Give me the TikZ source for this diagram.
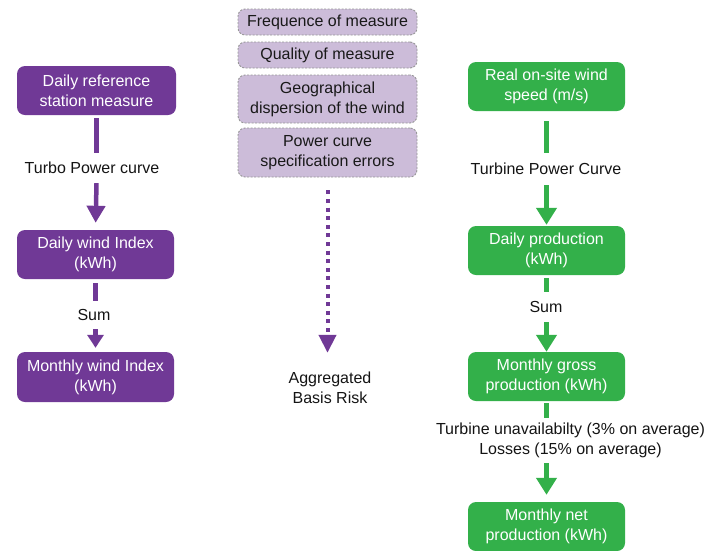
\documentclass[tikz,border=0pt]{standalone}
\usepackage{fontspec}
\setmainfont{Liberation Sans}
\usetikzlibrary{arrows.meta}
\definecolor{pur}{RGB}{112,57,150}
\definecolor{grn}{RGB}{51,176,74}
\definecolor{lpur}{RGB}{204,188,217}
\definecolor{dgray}{RGB}{150,150,150}
\tikzset{
  pbox/.style={fill=pur,rounded corners=8pt,text=white,align=center,font=\fontsize{16}{20}\selectfont,inner sep=0pt,minimum height=49pt},
  gbox/.style={fill=grn,rounded corners=8pt,text=white,align=center,font=\fontsize{16}{20}\selectfont,inner sep=0pt,minimum height=49pt,minimum width=157pt},
  cbox/.style={fill=lpur,draw=dgray,dash pattern=on 2pt off 1.5pt,line width=0.9pt,rounded corners=7pt,text=black!90,align=center,font=\fontsize{16}{20}\selectfont,inner sep=0pt,minimum width=179pt},
  lab/.style={text=black!92,align=center,font=\fontsize{16}{20}\selectfont,inner sep=0pt},
  pline/.style={draw=pur,line width=4.5pt},
  gline/.style={draw=grn,line width=4.5pt},
  ptip/.style={-{Triangle[width=18pt,length=17pt]}},
  gtip/.style={-{Triangle[width=20pt,length=17pt]}},
}
\begin{document}
\begin{tikzpicture}[x=1pt,y=-1pt]
\useasboundingbox (0,0) rectangle (719,550);
% left column
\node[pbox,minimum width=159pt] (b1) at (96.5,90.5) {Daily reference\\station measure};
\node[lab,minimum height=30pt] (l1) at (92,168) {Turbo Power curve};
\node[pbox,minimum width=157pt] (b2) at (95.5,254.5) {Daily wind Index\\(kWh)};
\node[lab,minimum height=28pt] (l2) at (94,315) {Sum};
\node[pbox,minimum width=157pt,minimum height=50pt] (b3) at (95.5,377) {Monthly wind Index\\(kWh)};
\draw[pline,shorten <=3pt] (b1.south) -- (b1.south |- l1.north);
\draw[pline,ptip,shorten >=7pt] (b1.south |- l1.south) -- (b2.north);
\draw[pline,shorten <=4pt] (b2.south) -- (b2.south |- l2.north);
\draw[pline,-{Triangle[width=16pt,length=13pt]},shorten >=4pt] (b2.south |- l2.south) -- (b3.north);
% centre column
\node[cbox,minimum height=26pt] (c1) at (327.5,22) {Frequence of measure};
\node[cbox,minimum height=26pt] (c2) at (327.5,55) {Quality of measure};
\node[cbox,minimum height=48pt] (c3) at (327.5,99) {Geographical\\dispersion of the wind};
\node[cbox,minimum height=49pt] (c4) at (327.5,152.5) {Power curve\\specification errors};
\node[lab,minimum height=40pt] (r) at (330,388) {Aggregated\\Basis Risk};
\draw[pline,line width=4pt,dash pattern=on 4pt off 4.6pt,-{Triangle[width=17pt,length=18pt]},shorten <=13pt,shorten >=15pt] (c4.south) -- (c4.south |- r.north);
% right column
\node[gbox] (g1) at (546.5,86.5) {Real on-site wind\\speed (m/s)};
\node[lab,minimum height=32pt] (gl1) at (546,169) {Turbine Power Curve};
\node[gbox] (g2) at (546.5,250.5) {Daily production\\(kWh)};
\node[lab,minimum height=30pt] (gl2) at (546,307) {Sum};
\node[gbox] (g3) at (546.5,376.5) {Monthly gross\\production (kWh)};
\node[lab,minimum height=45pt] (gl3) at (570.5,440.5) {Turbine unavailabilty (3\% on average)\\Losses (15\% on average)};
\node[gbox] (g4) at (546.5,526.5) {Monthly net\\production (kWh)};
\draw[gline,shorten <=10pt] (g1.south) -- (g1.south |- gl1.north);
\draw[gline,gtip,shorten >=1pt] (g1.south |- gl1.south) -- (g2.north);
\draw[gline,shorten <=3pt] (g2.south) -- (g2.south |- gl2.north);
\draw[gline,gtip] (g2.south |- gl2.south) -- (g3.north);
\draw[gline,shorten <=2pt] (g3.south) -- (g3.south |- gl3.north);
\draw[gline,gtip,shorten >=7pt] (g3.south |- gl3.south) -- (g4.north);
\end{tikzpicture}
\end{document}
